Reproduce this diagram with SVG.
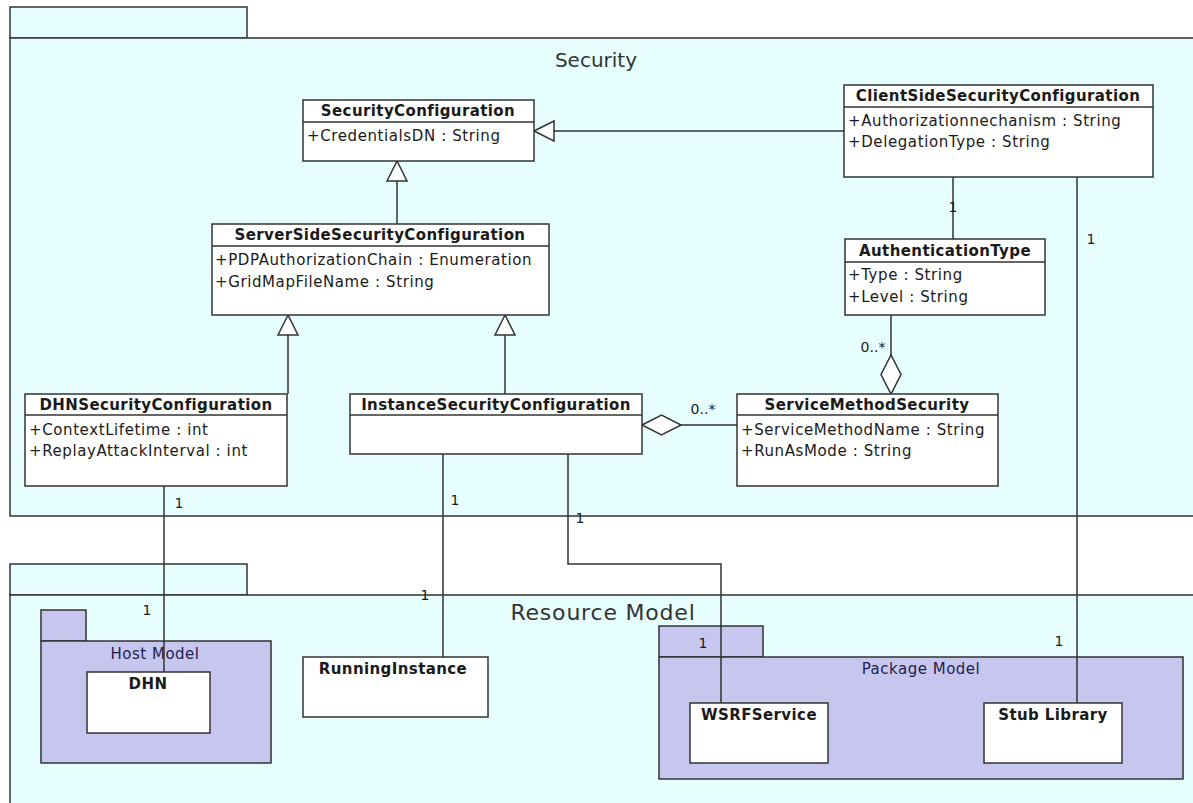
<svg xmlns="http://www.w3.org/2000/svg" width="1193" height="803" viewBox="0 0 1193 803">
  <style>
    .pkg { fill: #e6fefe; stroke: #333; stroke-width: 1.5; }
    .sub { fill: #c6c6ee; stroke: #333; stroke-width: 1.5; }
    .cls { fill: #ffffff; stroke: #333; stroke-width: 1.5; }
    .sep { stroke: #333; stroke-width: 1.5; }
    .line { fill: none; stroke: #333; stroke-width: 1.5; }
    .head { fill: #ffffff; stroke: #333; stroke-width: 1.5; }
    .name { font-family: "DejaVu Sans", "Liberation Sans", sans-serif; font-size: 15px; letter-spacing: 0.4px; font-weight: bold; fill: #1a1a1a; text-anchor: middle; }
    .attr { font-family: "DejaVu Sans", "Liberation Sans", sans-serif; font-size: 15px; letter-spacing: 0.6px; fill: #1a1a1a; }
    .mult { font-family: "DejaVu Sans", "Liberation Sans", sans-serif; font-size: 14px; fill: #1a1a1a; text-anchor: middle; }
    .ptitle { font-family: "DejaVu Sans", "Liberation Sans", sans-serif; font-size: 20px; fill: #333; text-anchor: middle; }
    .rtitle { font-family: "DejaVu Sans", "Liberation Sans", sans-serif; font-size: 22px; letter-spacing: 0.8px; fill: #333; text-anchor: middle; }
    .stitle { font-family: "DejaVu Sans", "Liberation Sans", sans-serif; font-size: 15px; letter-spacing: 0.5px; fill: #1e1e50; text-anchor: middle; }
  </style>

  <rect x="0" y="0" width="1193" height="803" fill="#ffffff"/>

  <!-- Packages -->
  <g id="pkg-security">
    <rect class="pkg" x="10" y="7" width="237" height="31"/>
    <rect class="pkg" x="10" y="38" width="1200" height="478"/>
    <text class="ptitle" x="596" y="67">Security</text>
  </g>
  <g id="pkg-resource-model">
    <rect class="pkg" x="10" y="564" width="237" height="31"/>
    <rect class="pkg" x="10" y="595" width="1200" height="230"/>
    <text class="rtitle" x="603" y="620">Resource Model</text>
  </g>
  <g id="pkg-host-model">
    <rect class="sub" x="41" y="610" width="45" height="31"/>
    <rect class="sub" x="41" y="641" width="230" height="122"/>
    <text class="stitle" x="155" y="659">Host Model</text>
  </g>
  <g id="pkg-package-model">
    <rect class="sub" x="659" y="626" width="104" height="31"/>
    <rect class="sub" x="659" y="657" width="524" height="122"/>
    <text class="stitle" x="921" y="674">Package Model</text>
  </g>

  <!-- Connectors -->
  <g id="connectors">
    <!-- generalizations -->
    <line class="line" x1="397" y1="224" x2="397" y2="181"/>
    <polygon class="head" points="397,161 387,181 407,181"/>
    <line class="line" x1="844" y1="131" x2="554" y2="131"/>
    <polygon class="head" points="534,131 554,121 554,141"/>
    <line class="line" x1="288" y1="394" x2="288" y2="335"/>
    <polygon class="head" points="288,315 278,335 298,335"/>
    <line class="line" x1="505" y1="394" x2="505" y2="335"/>
    <polygon class="head" points="505,315 495,335 515,335"/>

    <!-- associations -->
    <line class="line" x1="953" y1="177" x2="953" y2="239"/>
    <line class="line" x1="1077" y1="177" x2="1077" y2="703"/>
    <line class="line" x1="164" y1="486" x2="164" y2="672"/>
    <line class="line" x1="443" y1="454" x2="443" y2="657"/>
    <polyline class="line" points="568,454 568,564 721,564 721,703"/>

    <!-- aggregations -->
    <line class="line" x1="891" y1="315" x2="891" y2="355"/>
    <polygon class="head" points="891,355 881,374.5 891,394 901,374.5"/>
    <line class="line" x1="681" y1="425" x2="737" y2="425"/>
    <polygon class="head" points="642,425 661.5,415 681,425 661.5,435"/>

    <!-- multiplicities -->
    <text class="mult" x="953" y="212">1</text>
    <text class="mult" x="1091" y="244">1</text>
    <text class="mult" x="873" y="352">0..*</text>
    <text class="mult" x="703" y="414">0..*</text>
    <text class="mult" x="179" y="508">1</text>
    <text class="mult" x="455" y="505">1</text>
    <text class="mult" x="580" y="523">1</text>
    <text class="mult" x="425" y="600">1</text>
    <text class="mult" x="147" y="615">1</text>
    <text class="mult" x="703" y="648">1</text>
    <text class="mult" x="1059" y="646">1</text>
  </g>

  <!-- Classes -->
  <g id="SecurityConfiguration">
    <rect class="cls" x="303" y="100" width="231" height="61"/>
    <line class="sep" x1="303" y1="122" x2="534" y2="122"/>
    <text class="name" x="418" y="116">SecurityConfiguration</text>
    <text class="attr" x="307" y="141">+CredentialsDN : String</text>
  </g>
  <g id="ServerSideSecurityConfiguration">
    <rect class="cls" x="212" y="224" width="337" height="91"/>
    <line class="sep" x1="212" y1="246" x2="549" y2="246"/>
    <text class="name" x="380" y="240">ServerSideSecurityConfiguration</text>
    <text class="attr" x="215" y="265">+PDPAuthorizationChain : Enumeration</text>
    <text class="attr" x="215" y="287">+GridMapFileName : String</text>
  </g>
  <g id="ClientSideSecurityConfiguration">
    <rect class="cls" x="844" y="85" width="309" height="92"/>
    <line class="sep" x1="844" y1="107" x2="1153" y2="107"/>
    <text class="name" x="998" y="101">ClientSideSecurityConfiguration</text>
    <text class="attr" x="848" y="126">+Authorizationnechanism : String</text>
    <text class="attr" x="848" y="147">+DelegationType : String</text>
  </g>
  <g id="AuthenticationType">
    <rect class="cls" x="845" y="239" width="200" height="76"/>
    <line class="sep" x1="845" y1="262" x2="1045" y2="262"/>
    <text class="name" x="945" y="256">AuthenticationType</text>
    <text class="attr" x="848" y="280">+Type : String</text>
    <text class="attr" x="848" y="302">+Level : String</text>
  </g>
  <g id="DHNSecurityConfiguration">
    <rect class="cls" x="25" y="394" width="262" height="92"/>
    <line class="sep" x1="25" y1="415" x2="287" y2="415"/>
    <text class="name" x="156" y="410">DHNSecurityConfiguration</text>
    <text class="attr" x="29" y="435">+ContextLifetime : int</text>
    <text class="attr" x="29" y="456">+ReplayAttackInterval : int</text>
  </g>
  <g id="InstanceSecurityConfiguration">
    <rect class="cls" x="350" y="394" width="292" height="60"/>
    <line class="sep" x1="350" y1="415" x2="642" y2="415"/>
    <text class="name" x="496" y="410">InstanceSecurityConfiguration</text>
  </g>
  <g id="ServiceMethodSecurity">
    <rect class="cls" x="737" y="394" width="261" height="92"/>
    <line class="sep" x1="737" y1="415" x2="998" y2="415"/>
    <text class="name" x="867" y="410">ServiceMethodSecurity</text>
    <text class="attr" x="741" y="435">+ServiceMethodName : String</text>
    <text class="attr" x="741" y="456">+RunAsMode : String</text>
  </g>
  <g id="DHN">
    <rect class="cls" x="87" y="672" width="123" height="61"/>
    <text class="name" x="148" y="689">DHN</text>
  </g>
  <g id="RunningInstance">
    <rect class="cls" x="303" y="657" width="185" height="60"/>
    <text class="name" x="393" y="674">RunningInstance</text>
  </g>
  <g id="WSRFService">
    <rect class="cls" x="690" y="703" width="138" height="60"/>
    <text class="name" x="759" y="720">WSRFService</text>
  </g>
  <g id="StubLibrary">
    <rect class="cls" x="984" y="703" width="138" height="60"/>
    <text class="name" x="1053" y="720">Stub Library</text>
  </g>
</svg>
